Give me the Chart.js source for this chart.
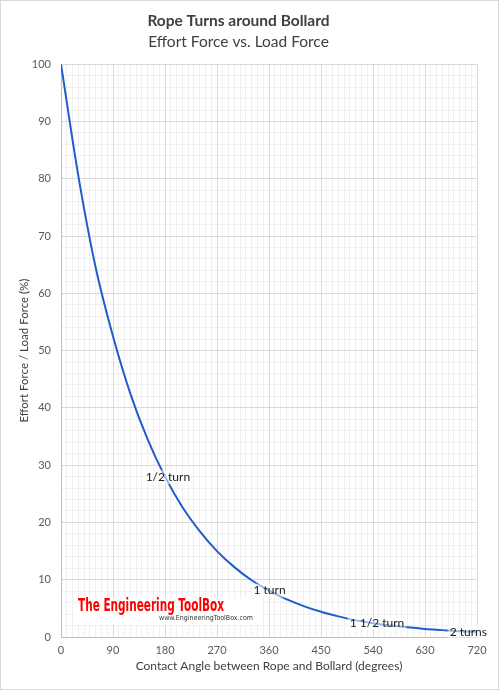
<!DOCTYPE html>
<html>
<head>
<meta charset="utf-8">
<script src="https://cdn.jsdelivr.net/npm/chart.js@4.4.1/dist/chart.umd.min.js"></script>
<style>
  html, body { margin: 0; padding: 0; background: #fff; }
  canvas { display: block; }
</style>
</head>
<body>
<canvas id="chart" width="500" height="691"></canvas>
<script>
// Rope turns around bollard - effort force vs load force

const angles = [0, 30, 60, 90, 120, 150, 180, 210, 240, 270, 300, 330, 360, 390, 420, 450, 480, 510, 540, 570, 600, 630, 660, 690, 720];
const effort = [100, 80.5, 64.5, 52.5, 42.5, 34.5, 28, 22.7, 18.5, 15, 12.2, 9.9, 8.1, 6.6, 5.4, 4.4, 3.6, 2.9, 2.4, 2.0, 1.7, 1.4, 1.2, 1.0, 0.9];

const labelText = ['1/2 turn', '1 turn', '1 1/2 turn', '2 turns'];
const labelAngles = [185, 361, 547, 705];
const labelValues = [27.9, 8.1, 2.45, 0.93];

const xTicks = [0, 90, 180, 270, 360, 450, 540, 630, 720];
const yTicks = [0, 10, 20, 30, 40, 50, 60, 70, 80, 90, 100];

const fontFamily = 'Lato, "Open Sans", sans-serif';

const points = angles.map((a, i) => ({ x: a, y: effort[i] }));

// turn labels, placed through the scales
const turnLabels = {
    id: 'turnLabels',
    afterDatasetsDraw(chart) {
        const ctx = chart.ctx;
        const xs = chart.scales.x;
        const ys = chart.scales.y;
        ctx.save();
        ctx.font = '12px ' + fontFamily;
        ctx.textAlign = 'center';
        ctx.textBaseline = 'middle';
        for (let i = 0; i < labelText.length; i++) {
            let px = xs.getPixelForValue(labelAngles[i]);
            let py = ys.getPixelForValue(labelValues[i]);
            let w = ctx.measureText(labelText[i]).width;
            ctx.fillStyle = 'rgba(255,255,255,0.55)';
            ctx.fillRect(px - w / 2 - 2, py - 7, w + 4, 14);
            ctx.fillStyle = '#1a1a1a';
            ctx.fillText(labelText[i], px, py);
        }
        ctx.restore();
    }
};

// watermark and outer frame
const decorations = {
    id: 'decorations',
    afterDraw(chart) {
        const ctx = chart.ctx;
        ctx.save();
        ctx.fillStyle = '#fff';
        ctx.fillRect(76, 598, 186, 27);

        ctx.font = 'bold 17px "DejaVu Sans Condensed", "DejaVu Sans", sans-serif';
        ctx.textBaseline = 'middle';
        ctx.textAlign = 'left';
        let txt = 'The Engineering ToolBox';
        let w = ctx.measureText(txt).width;
        ctx.translate(78, 606.5);
        ctx.scale(146 / w, 1);
        ctx.fillStyle = '#ff0000';
        ctx.fillText(txt, 0, 0);
        ctx.setTransform(1, 0, 0, 1, 0, 0);

        ctx.font = '7px "DejaVu Sans", sans-serif';
        ctx.fillStyle = '#333';
        let small = 'www.EngineeringToolBox.com';
        let sw = ctx.measureText(small).width;
        ctx.translate(159, 618.5);
        ctx.scale(94 / sw, 1);
        ctx.fillText(small, 0, 0);
        ctx.setTransform(1, 0, 0, 1, 0, 0);

        ctx.strokeStyle = '#d9d9d9';
        ctx.lineWidth = 1;
        ctx.strokeRect(0.5, 0.5, 498, 689);
        ctx.restore();
    }
};

const ctx = document.getElementById('chart').getContext('2d');
const chart = new Chart(ctx, {
    type: 'line',
    data: {
        datasets: [{
            data: points,
            borderColor: '#1f5ccc',
            borderWidth: 2,
            pointRadius: 0,
            cubicInterpolationMode: 'monotone',
            fill: false
        }]
    },
    options: {
        responsive: false,
        animation: false,
        devicePixelRatio: 1,
        layout: { padding: { left: 0, right: 23, top: 0, bottom: 0 } },
        plugins: {
            legend: { display: false },
            tooltip: { enabled: false },
            title: {
                display: true,
                text: 'Rope Turns around Bollard',
                color: '#404040',
                font: { family: fontFamily, size: 15.5, weight: 'bold', lineHeight: 1.2 },
                padding: { top: 12, bottom: 1 }
            },
            subtitle: {
                display: true,
                text: 'Effort Force vs. Load Force',
                color: '#404040',
                font: { family: fontFamily, size: 15.5, lineHeight: 1.2 },
                padding: { top: 1, bottom: 13 }
            }
        },
        scales: {
            xMinor: {
                type: 'linear', position: 'bottom', min: 0, max: 720, z: -1,
                ticks: { display: false, stepSize: 10 },
                grid: { color: '#f0f0f0', drawTicks: false },
                border: { display: false }
            },
            yMinor: {
                type: 'linear', position: 'left', min: 0, max: 100, z: -1,
                ticks: { display: false, stepSize: 2 },
                grid: { color: '#f0f0f0', drawTicks: false },
                border: { display: false }
            },
            x: {
                type: 'linear', position: 'bottom', min: 0, max: 720,
                afterBuildTicks: s => { s.ticks = xTicks.map(v => ({ value: v })); },
                afterFit: s => { s.height = 54; },
                ticks: { color: '#595959', font: { family: fontFamily, size: 11 }, padding: 7 },
                grid: { color: '#d9d9d9', drawTicks: false },
                border: { color: '#bfbfbf' },
                title: {
                    display: true,
                    text: 'Contact Angle between Rope and Bollard (degrees)',
                    color: '#404040',
                    font: { family: fontFamily, size: 12 },
                    padding: { top: 6, bottom: 18 }
                }
            },
            y: {
                type: 'linear', position: 'left', min: 0, max: 100,
                afterBuildTicks: s => { s.ticks = yTicks.map(v => ({ value: v })); },
                afterFit: s => { s.width = 61; },
                ticks: { color: '#595959', font: { family: fontFamily, size: 11 }, padding: 10 },
                grid: { color: '#d9d9d9', drawTicks: false },
                border: { color: '#bfbfbf' },
                title: {
                    display: true,
                    text: 'Effort Force / Load Force (%)',
                    color: '#404040',
                    font: { family: fontFamily, size: 11.5 },
                    padding: { top: 17, bottom: 4 }
                }
            }
        }
    },
    plugins: [turnLabels, decorations]
});
</script>
</body>
</html>
